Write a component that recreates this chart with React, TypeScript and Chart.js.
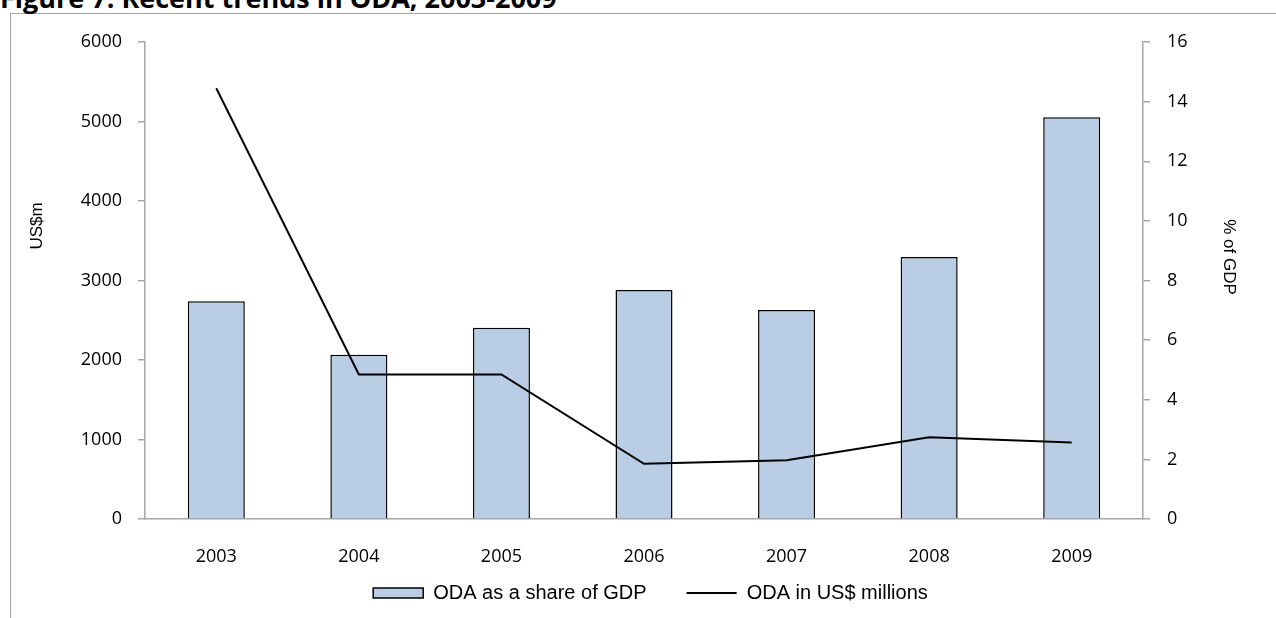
import React, { useEffect, useRef } from "react";
import { Chart, registerables } from "chart.js";

Chart.register(...registerables);

const years = ["2003", "2004", "2005", "2006", "2007", "2008", "2009"];
const odaShareOfGdp = [2740, 2065, 2405, 2880, 2630, 3295, 5055];
const odaUsdMillions = [14.45, 4.85, 4.85, 1.85, 1.97, 2.74, 2.57];
const leftAxisMax = 6000;
const leftAxisStep = 1000;
const rightAxisMax = 16;
const rightAxisStep = 2;
const titleText = "Figure 7: Recent trends in ODA, 2003-2009";
const leftAxisTitle = "US$m";
const rightAxisTitle = "% of GDP";
const seriesNames = ["ODA as a share of GDP", "ODA in US$ millions"];

const AXIS_GREY = "#a6a6a6";
const TICK_FONT = { family: "'Open Sans', sans-serif", size: 18 };
const LABEL_FONT_FAMILY = "'Liberation Sans', Arial, sans-serif";

const axisTitles = {
  id: "axisTitles",
  afterDraw(chart: any) {
    const ctx = chart.ctx;
    ctx.save();
    ctx.fillStyle = "#000";
    ctx.font = `17px ${LABEL_FONT_FAMILY}`;
    ctx.textAlign = "center";
    ctx.textBaseline = "middle";
    ctx.translate(37, 226);
    ctx.rotate(-Math.PI / 2);
    ctx.fillText(leftAxisTitle, 0, 0);
    ctx.restore();
    ctx.save();
    ctx.fillStyle = "#000";
    ctx.font = `17px ${LABEL_FONT_FAMILY}`;
    ctx.textAlign = "center";
    ctx.textBaseline = "middle";
    ctx.translate(1229, 257);
    ctx.rotate(Math.PI / 2);
    ctx.fillText(rightAxisTitle, 0, 0);
    ctx.restore();
  },
};

export default function App() {
  const canvasRef = useRef<HTMLCanvasElement | null>(null);

  useEffect(() => {
    if (!canvasRef.current) return;
    const chart = new Chart(canvasRef.current, {
      type: "bar",
      data: {
        labels: years,
        datasets: [
          {
            type: "bar",
            label: seriesNames[0],
            data: odaShareOfGdp,
            backgroundColor: "#b9cde5",
            borderColor: "#000",
            borderWidth: 1.5,
            barPercentage: 0.4,
            categoryPercentage: 1,
            yAxisID: "y",
            order: 2,
          },
          {
            type: "line",
            label: seriesNames[1],
            data: odaUsdMillions,
            borderColor: "#000",
            backgroundColor: "#000",
            borderWidth: 2,
            pointRadius: 0,
            tension: 0,
            yAxisID: "y1",
            order: 1,
          },
        ],
      },
      options: {
        responsive: false,
        animation: false,
        devicePixelRatio: 1,
        layout: { padding: { top: 42, left: 25, right: 0, bottom: 5 } },
        plugins: {
          tooltip: { enabled: false },
          legend: {
            display: true,
            position: "bottom",
            labels: {
              usePointStyle: true,
              pointStyleWidth: 50,
              boxWidth: 50,
              boxHeight: 10,
              padding: 40,
              color: "#000",
              font: { family: LABEL_FONT_FAMILY, size: 20 },
              sort: (a: any, b: any) => a.datasetIndex - b.datasetIndex,
              generateLabels: (chart: any) => {
                const items = Chart.defaults.plugins.legend.labels.generateLabels(chart);
                items.forEach((it: any) => {
                  if (it.datasetIndex === 0) {
                    it.pointStyle = "rect";
                    it.fillStyle = "#b9cde5";
                    it.strokeStyle = "#000";
                    it.lineWidth = 1.5;
                  } else {
                    it.pointStyle = "line";
                    it.strokeStyle = "#000";
                    it.lineWidth = 2;
                  }
                });
                return items;
              },
            },
          },
        },
        scales: {
          x: {
            grid: { display: false, drawTicks: false },
            border: { display: true, color: AXIS_GREY, width: 1.5 },
            ticks: {
              color: "#000",
              font: TICK_FONT,
              mirror: true,
              padding: -49,
              maxRotation: 0,
              autoSkip: false,
            },
            afterFit: (scale: any) => {
              scale.height = 24;
            },
          },
          y: {
            position: "left",
            min: 0,
            max: leftAxisMax,
            ticks: {
              stepSize: leftAxisStep,
              color: "#000",
              font: TICK_FONT,
              padding: 16,
              callback: (v: any) => String(v),
            },
            grid: {
              display: true,
              drawOnChartArea: false,
              drawTicks: true,
              tickLength: 7,
              color: AXIS_GREY,
              lineWidth: 1.5,
            },
            border: { display: true, color: AXIS_GREY, width: 1.5 },
            afterFit: (scale: any) => {
              scale.width = 120;
            },
          },
          y1: {
            position: "right",
            min: 0,
            max: rightAxisMax,
            ticks: {
              stepSize: rightAxisStep,
              color: "#000",
              font: TICK_FONT,
              padding: 17,
              callback: (v: any) => String(v),
            },
            grid: {
              display: true,
              drawOnChartArea: false,
              drawTicks: true,
              tickLength: 7,
              color: AXIS_GREY,
              lineWidth: 1.5,
            },
            border: { display: true, color: AXIS_GREY, width: 1.5 },
            afterFit: (scale: any) => {
              scale.width = 133;
            },
          },
        },
      },
      plugins: [axisTitles],
    } as any);
    return () => chart.destroy();
  }, []);

  return (
    <div
      style={{
        position: "absolute",
        left: 0,
        top: 0,
        width: 1276,
        height: 618,
        overflow: "hidden",
        background: "#fff",
      }}
    >
      <div
        style={{
          position: "absolute",
          left: 10,
          top: 13,
          width: 1300,
          height: 700,
          borderLeft: `1.5px solid ${AXIS_GREY}`,
          borderTop: `1.5px solid ${AXIS_GREY}`,
        }}
      />
      <div
        style={{
          position: "absolute",
          left: 0,
          top: -16,
          fontFamily: "'Open Sans', sans-serif",
          fontWeight: 700,
          fontSize: 27,
          lineHeight: "27px",
          whiteSpace: "nowrap",
          color: "#000",
        }}
      >
        {titleText}
      </div>
      <canvas
        ref={canvasRef}
        width={1276}
        height={618}
        style={{ position: "absolute", left: 0, top: 0 }}
      />
    </div>
  );
}
